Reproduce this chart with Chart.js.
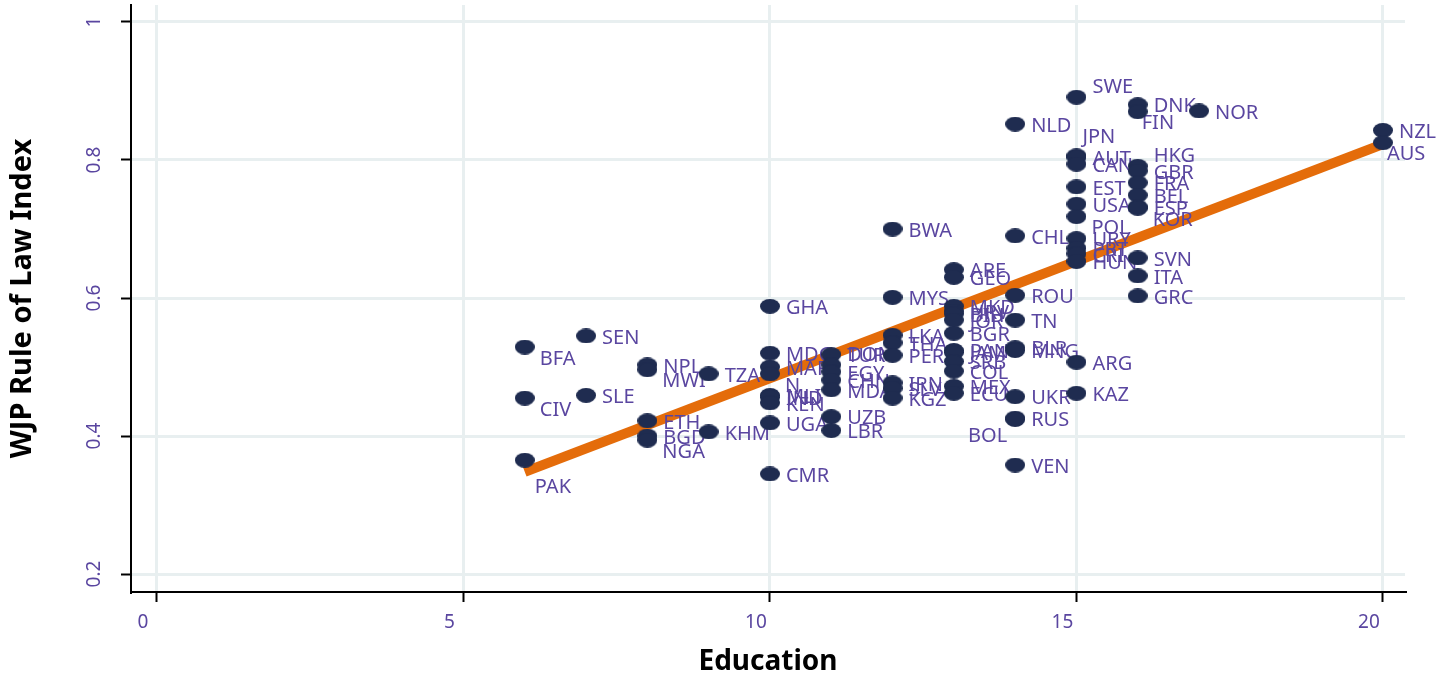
<!DOCTYPE html>
<html>
<head>
<meta charset="utf-8">
<script src="https://cdn.jsdelivr.net/npm/chart.js@4.4.1/dist/chart.umd.min.js"></script>
<style>
  html, body { margin: 0; padding: 0; background: #fff; }
  #wrap { width: 1441px; height: 679px; }
</style>
</head>
<body>
<div id="wrap"><canvas id="rol"></canvas></div>
<script>
// country codes, years of education, WJP rule of law index
var codes = [
  'PAK','BFA','CIV',
  'SEN','SLE',
  'NPL','MWI','ETH','BGD','NGA',
  'TZA','KHM',
  'GHA','MDG','MAR','N','MLI','IND','KEN','UGA','CMR',
  'TUR','DOM','EGY','CHN','MDA','UZB','LBR',
  'BWA','MYS','LKA','THA','PER','IRN','SLV','KGZ',
  'ARE','GEO','MKD','HRV','BIH','JOR','BGR','PAN','JAM','SRB','COL','MEX','ECU',
  'NLD','CHL','ROU','TN','BLR','MNG','UKR','RUS','BOL','VEN',
  'SWE','JPN','AUT','CAN','EST','USA','POL','URY','PRT','CRI','HUN','ARG','KAZ',
  'DNK','FIN','HKG','GBR','FRA','BEL','ESP','KOR','SVN','ITA','GRC',
  'NOR',
  'NZL','AUS'
];
var education = [
  6, 6, 6,
  7, 7,
  8, 8, 8, 8, 8,
  9, 9,
  10, 10, 10, 10, 10, 10, 10, 10, 10,
  11, 11, 11, 11, 11, 11, 11,
  12, 12, 12, 12, 12, 12, 12, 12,
  13, 13, 13, 13, 13, 13, 13, 13, 13, 13, 13, 13, 13,
  14, 14, 14, 14, 14, 14, 14, 14, 14, 14,
  15, 15, 15, 15, 15, 15, 15, 15, 15, 15, 15, 15, 15,
  16, 16, 16, 16, 16, 16, 16, 16, 16, 16, 16,
  17,
  20, 20
];
var rolIndex = [
  0.365, 0.529, 0.455,
  0.545, 0.459,
  0.503, 0.496, 0.422, 0.400, 0.394,
  0.490, 0.406,
  0.588, 0.520, 0.500, 0.490, 0.459, 0.456, 0.448, 0.419, 0.345,
  0.518, 0.503, 0.493, 0.481, 0.467, 0.428, 0.408,
  0.700, 0.601, 0.546, 0.535, 0.517, 0.477, 0.469, 0.455,
  0.641, 0.630, 0.588, 0.581, 0.577, 0.568, 0.549, 0.524, 0.521, 0.508, 0.494, 0.472, 0.462,
  0.852, 0.690, 0.604, 0.568, 0.528, 0.524, 0.457, 0.426, 0.424, 0.358,
  0.891, 0.806, 0.804, 0.794, 0.761, 0.736, 0.718, 0.686, 0.672, 0.664, 0.653, 0.507, 0.462,
  0.880, 0.870, 0.791, 0.784, 0.767, 0.749, 0.732, 0.730, 0.658, 0.632, 0.603,
  0.871,
  0.843, 0.825
];
// label position as a clock face, like Stata's mlabvposition
var labelClock = [
  6, 4, 4,
  3, 3,
  3, 4, 3, 3, 4,
  3, 3,
  3, 3, 3, 4, 3, 3, 3, 3, 3,
  3, 2, 3, 3, 3, 3, 3,
  3, 3, 3, 3, 3, 3, 3, 3,
  3, 3, 3, 3, 3, 3, 3, 3, 3, 3, 3, 3, 3,
  3, 3, 3, 3, 3, 3, 3, 3, 7, 3,
  2, 1, 3, 3, 3, 3, 4, 3, 3, 3, 3, 3, 3,
  3, 5, 2, 3, 3, 3, 3, 4, 3, 3, 3,
  3,
  3, 5
];
// linear fit
var fitEdu = [6, 20];
var fitRol = [0.348, 0.823];

var xTicks = [0, 5, 10, 15, 20];
var yTicks = [0.2, 0.4, 0.6, 0.8, 1];

var purple = '#5a46a0';
var navy = '#1f2c50';

var clockOffsets = {
  1: [6, -19, 'left'],
  2: [16, -10, 'left'],
  3: [16, 2, 'left'],
  4: [15, 12, 'left'],
  5: [4, 12, 'left'],
  6: [10, 27, 'left'],
  7: [-8, 17, 'right']
};

function ellipseMarker(w, h, color) {
  var c = document.createElement('canvas');
  c.width = w; c.height = h;
  var g = c.getContext('2d');
  g.fillStyle = color;
  g.beginPath();
  g.ellipse(w / 2, h / 2, w / 2, h / 2, 0, 0, 2 * Math.PI);
  g.fill();
  return c;
}

// labels go on after the fit line but under the markers
var pointLabels = {
  id: 'pointLabels',
  afterDatasetDraw: function(chart, args) {
    if (args.index !== 1) return;
    var meta = chart.getDatasetMeta(0);
    var ctx = chart.ctx;
    ctx.save();
    ctx.font = '20px "Noto Sans", sans-serif';
    ctx.fillStyle = purple;
    ctx.textBaseline = 'middle';
    meta.data.forEach(function(pt, i) {
      var o = clockOffsets[labelClock[i]];
      ctx.textAlign = o[2];
      ctx.fillText(codes[i], pt.x + o[0], pt.y + o[1]);
    });
    ctx.restore();
  }
};

var points = education.map(function(e, i) { return { x: e, y: rolIndex[i] }; });
var fit = fitEdu.map(function(e, i) { return { x: e, y: fitRol[i] }; });

new Chart('rol', {
  type: 'scatter',
  data: {
    datasets: [
      {
        label: 'WJP Rule of Law Index',
        data: points,
        pointStyle: ellipseMarker(20, 15, navy),
        pointRadius: 9,
        order: 1
      },
      {
        type: 'line',
        label: 'Fitted values',
        data: fit,
        borderColor: '#e46c0a',
        borderWidth: 10,
        borderCapStyle: 'butt',
        pointRadius: 0,
        fill: false,
        order: 2
      }
    ]
  },
  options: {
    responsive: true,
    maintainAspectRatio: false,
    animation: false,
    events: [],
    layout: { autoPadding: false, padding: { top: 5, right: 36, left: 0, bottom: 0 } },
    plugins: { legend: { display: false }, tooltip: { enabled: false } },
    scales: {
      x: {
        type: 'linear',
        min: -0.424,
        max: 20.36,
        afterBuildTicks: function(s) { s.ticks = xTicks.map(function(v) { return { value: v }; }); },
        afterFit: function(s) { s.height = 87; s.paddingLeft = 0; s.paddingRight = 0; },
        grid: { color: '#e8eff0', lineWidth: 3, tickColor: '#000', tickWidth: 2, tickLength: 10 },
        border: { color: '#000', width: 2 },
        ticks: {
          color: purple,
          font: { family: 'Noto Sans', size: 19 },
          labelOffset: -14,
          padding: 9,
          maxRotation: 0
        },
        title: {
          display: true,
          text: 'Education',
          color: '#000',
          font: { family: 'Noto Sans', size: 28, weight: 'bold' },
          padding: { top: 0, bottom: 0 }
        }
      },
      y: {
        type: 'linear',
        min: 0.174,
        max: 1.0246,
        afterBuildTicks: function(s) { s.ticks = yTicks.map(function(v) { return { value: v }; }); },
        afterFit: function(s) { s.width = 131; s.paddingTop = 0; s.paddingBottom = 0; },
        grid: { color: '#e8eff0', lineWidth: 3, tickColor: '#000', tickWidth: 2, tickLength: 10 },
        border: { color: '#000', width: 2 },
        ticks: {
          color: purple,
          font: { family: 'Noto Sans', size: 19 },
          minRotation: 90,
          maxRotation: 90,
          crossAlign: 'center',
          padding: 13,
          callback: function(v) { return v === 1 ? '1' : v.toFixed(1); }
        },
        title: {
          display: true,
          text: 'WJP Rule of Law Index',
          color: '#000',
          font: { family: 'Noto Sans', size: 29, weight: 'bold' },
          padding: { top: 5, bottom: 0 }
        }
      }
    }
  },
  plugins: [pointLabels]
});
</script>
</body>
</html>
